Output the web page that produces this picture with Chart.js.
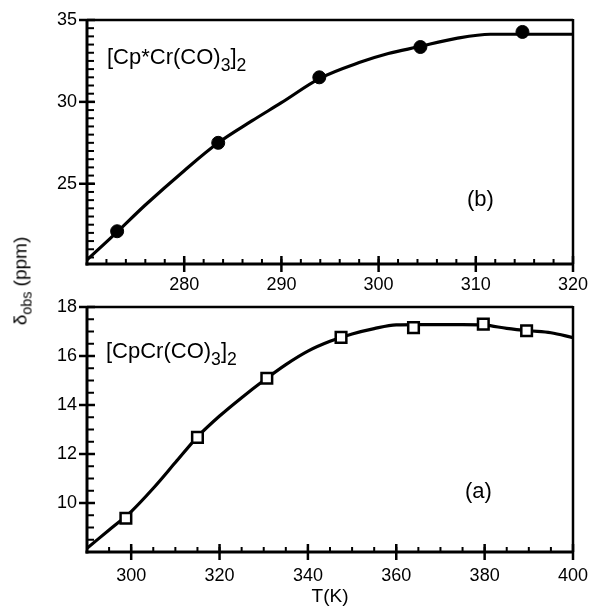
<!DOCTYPE html>
<html>
<head>
<meta charset="utf-8">
<script src="https://cdn.jsdelivr.net/npm/chart.js@4.4.0/dist/chart.umd.min.js"></script>
<style>
  html, body { margin: 0; padding: 0; background: #fff; overflow: hidden; }
  #wrap { position: relative; width: 591px; height: 608px; font-family: "Liberation Sans", Arial, sans-serif; color: #000; }
  #wrap canvas { position: absolute; left: 0; }
  .lbl { position: absolute; white-space: nowrap; font-size: 22px; line-height: 1; }
  .lbl sub { font-size: 0.8em; vertical-align: -7px; line-height: 0; }
  #ylab { position: absolute; left: 20px; top: 281px; transform: translate(-50%, -50%) rotate(-90deg);
          font-size: 19px; line-height: 1; white-space: nowrap; color: #000; }
  #ylab sub { font-size: 0.75em; vertical-align: -5px; line-height: 0; }
</style>
</head>
<body>
<div id="wrap">
  <canvas id="chartB" width="591" height="300" style="top:0"></canvas>
  <canvas id="chartA" width="591" height="318" style="top:290px"></canvas>
  <div id="ylab">&delta;<sub>obs</sub> (ppm)</div>
  <div class="lbl" style="left:107px; top:46px">[Cp*Cr(CO)<sub>3</sub>]<sub>2</sub></div>
  <div class="lbl" style="left:467px; top:188px">(b)</div>
  <div class="lbl" style="left:106px; top:340px">[CpCr(CO)<sub>3</sub>]<sub>2</sub></div>
  <div class="lbl" style="left:465px; top:480px">(a)</div>
</div>
<script>
// (b) [Cp*Cr(CO)3]2 - measured points and fitted curve
const bTemp = [273.1, 283.5, 293.9, 304.3, 314.8];
const bShift = [22.1, 27.5, 31.5, 33.35, 34.27];
const bCurveTemp = [270, 273, 276, 280, 283.5, 287, 290, 294, 298, 301, 304, 308, 311.5, 315, 320];
const bCurveShift = [20.35, 22.0, 23.7, 25.8, 27.5, 28.85, 29.95, 31.45, 32.4, 32.95, 33.35, 33.88, 34.13, 34.13, 34.13];
const bXTicks = [280, 290, 300, 310, 320];
const bYTicks = [25, 30, 35];

// (a) [CpCr(CO)3]2 - measured points and fitted curve
const aTemp = [298.8, 315.0, 330.7, 347.5, 363.9, 379.7, 389.5];
const aShift = [9.38, 12.68, 15.09, 16.76, 17.16, 17.3, 17.03];
const aCurveTemp = [290, 295, 300, 305, 310, 315, 320, 325, 330, 335, 340, 345, 350, 355, 360, 365, 370, 375, 380, 385, 390, 395, 400];
const aCurveShift = [8.15, 8.9, 9.65, 10.6, 11.65, 12.7, 13.55, 14.3, 15.0, 15.65, 16.2, 16.6, 16.9, 17.12, 17.27, 17.28, 17.28, 17.28, 17.26, 17.13, 17.03, 16.95, 16.75];
const aXTicks = [300, 320, 340, 360, 380, 400];
const aYTicks = [10, 12, 14, 16, 18];

const FONT = '"Liberation Sans", Arial, sans-serif';

function pairs(xs, ys) {
  return xs.map((x, i) => ({ x: x, y: ys[i] }));
}

function line(ctx, x1, y1, x2, y2) {
  ctx.beginPath();
  ctx.moveTo(x1, y1);
  ctx.lineTo(x2, y2);
  ctx.stroke();
}

// frame + major/minor tick marks, placed with the chart's own scales
const axisFrame = {
  id: 'axisFrame',
  afterDraw(chart, args, opts) {
    const ctx = chart.ctx;
    const a = chart.chartArea;
    const x = chart.scales.x, y = chart.scales.y;
    ctx.save();
    ctx.strokeStyle = '#000';

    // minor ticks, inside only
    ctx.lineWidth = 2;
    let n0 = Math.ceil(x.min / opts.minorX), n1 = Math.floor(x.max / opts.minorX);
    for (let n = n0; n <= n1; n++) {
      const px = x.getPixelForValue(n * opts.minorX);
      line(ctx, px, a.bottom, px, a.bottom - 5);
    }
    n0 = Math.ceil(y.min / opts.minorY);
    n1 = Math.floor(y.max / opts.minorY);
    for (let n = n0; n <= n1; n++) {
      const py = y.getPixelForValue(n * opts.minorY);
      line(ctx, a.left, py, a.left + 7, py);
    }

    // major ticks crossing the axis
    ctx.lineWidth = 2.5;
    x.ticks.forEach(t => {
      const px = x.getPixelForValue(t.value);
      line(ctx, px, a.bottom - 8, px, a.bottom + 8);
    });
    y.ticks.forEach(t => {
      const py = y.getPixelForValue(t.value);
      line(ctx, a.left - 8, py, a.left + 8, py);
    });

    // box
    ctx.lineWidth = 2.5;
    line(ctx, a.left, a.top, a.right, a.top);
    line(ctx, a.right, a.top - 1, a.right, a.bottom);
    ctx.lineWidth = 3;
    line(ctx, a.left, a.top - 1, a.left, a.bottom + 1.5);
    line(ctx, a.left - 1.5, a.bottom, a.right + 1, a.bottom);
    ctx.restore();
  }
};

function makePanel(id, p) {
  return new Chart(document.getElementById(id), {
    type: 'scatter',
    data: {
      datasets: [
        {
          data: pairs(p.temp, p.shift),
          showLine: false,
          pointStyle: p.style,
          pointRadius: p.radius,
          pointBackgroundColor: p.fill,
          pointBorderColor: '#000',
          pointBorderWidth: p.pointBorder,
          order: 0
        },
        {
          data: pairs(p.curveTemp, p.curveShift),
          showLine: true,
          pointRadius: 0,
          borderColor: '#000',
          borderWidth: 3.2,
          cubicInterpolationMode: 'monotone',
          order: 1
        }
      ]
    },
    options: {
      responsive: false,
      animation: false,
      devicePixelRatio: 1,
      layout: { padding: p.padding },
      plugins: {
        legend: { display: false },
        tooltip: { enabled: false },
        axisFrame: { minorX: p.minorX, minorY: p.minorY }
      },
      scales: {
        x: {
          type: 'linear',
          min: p.xMin,
          max: p.xMax,
          grid: { display: false },
          border: { display: false },
          ticks: { color: '#000', font: { family: FONT, size: 18 }, padding: p.xPad, autoSkip: false, maxRotation: 0 },
          afterBuildTicks: s => { s.ticks = p.xTicks.map(v => ({ value: v })); },
          afterFit: s => { s.height = p.xHeight; s.paddingLeft = 0; s.paddingRight = 0; },
          title: p.xTitle || { display: false }
        },
        y: {
          type: 'linear',
          min: p.yMin,
          max: p.yMax,
          grid: { display: false },
          border: { display: false },
          ticks: { color: '#000', font: { family: FONT, size: 18 }, padding: 2, autoSkip: false },
          afterBuildTicks: s => { s.ticks = p.yTicks.map(v => ({ value: v })); },
          afterFit: s => { s.width = 87; s.paddingTop = 0; s.paddingBottom = 0; }
        }
      }
    },
    plugins: [axisFrame]
  });
}

makePanel('chartB', {
  temp: bTemp, shift: bShift, curveTemp: bCurveTemp, curveShift: bCurveShift,
  style: 'circle', radius: 6.5, fill: '#000', pointBorder: 1,
  xMin: 270, xMax: 320, yMin: 20.1, yMax: 35,
  xTicks: bXTicks, yTicks: bYTicks, minorX: 2, minorY: 0.5,
  padding: { top: 20, right: 18, bottom: 0, left: 0 },
  xHeight: 36, xPad: 2
});

makePanel('chartA', {
  temp: aTemp, shift: aShift, curveTemp: aCurveTemp, curveShift: aCurveShift,
  style: 'rect', radius: 7.5, fill: '#fff', pointBorder: 2.5,
  xMin: 290, xMax: 400, yMin: 8, yMax: 18,
  xTicks: aXTicks, yTicks: aYTicks, minorX: 5, minorY: 0.5,
  padding: { top: 17, right: 18, bottom: 0, left: 0 },
  xHeight: 56, xPad: 5,
  xTitle: { display: true, text: 'T(K)', color: '#000', font: { family: FONT, size: 19 }, padding: { top: 0, bottom: 0 } }
});
</script>
</body>
</html>
